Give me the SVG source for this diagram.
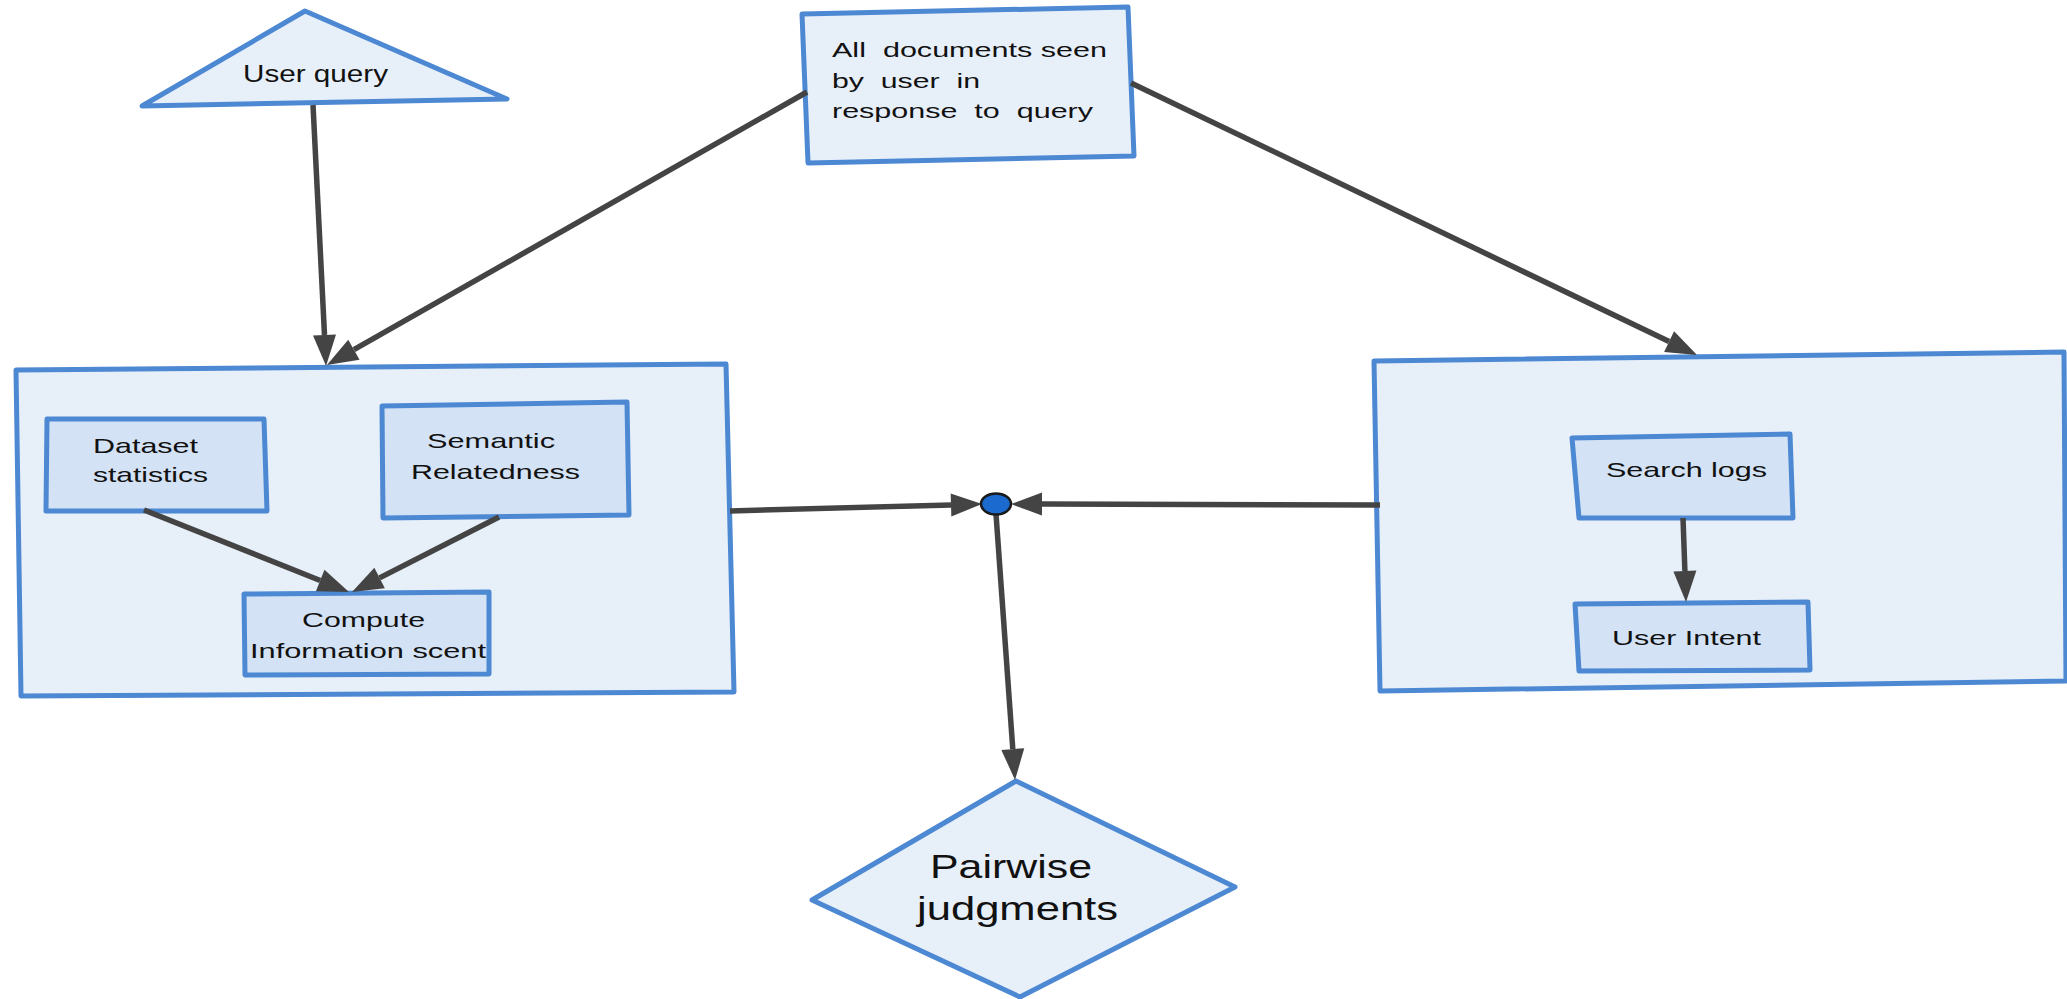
<svg xmlns="http://www.w3.org/2000/svg" width="2067" height="999" viewBox="0 0 2067 999">
<style>
.outer{fill:#e7eff9;stroke:#4d88d3;stroke-width:5;stroke-linejoin:round}
.inner{fill:#d3e2f4;stroke:#4d88d3;stroke-width:5;stroke-linejoin:round}
.t{font-family:"Liberation Sans",Arial,sans-serif;fill:#111;font-size:21px}
.conn line{stroke:#444;stroke-width:5.5;marker-end:url(#arr)}
</style>
<defs>
<marker id="arr" markerUnits="userSpaceOnUse" markerWidth="32" markerHeight="24" refX="0" refY="11.5" orient="auto" overflow="visible">
<path d="M0,0 L31,11.5 L0,23 z" fill="#444"/>
</marker>
</defs>
<rect width="2067" height="999" fill="#fff"/>
<g id="user-query">
<polygon class="outer" points="305,11 507,99 142,106"/>
<text class="t" x="243" y="82" style="font-size:23px" textLength="145" lengthAdjust="spacingAndGlyphs">User query</text>
</g>
<g id="all-documents">
<polygon class="outer" points="802,14 1128,7 1134,156 808,163"/>
<text class="t" xml:space="preserve" x="832" y="57" style="font-size:20px" textLength="275" lengthAdjust="spacingAndGlyphs">All  documents seen</text>
<text class="t" xml:space="preserve" x="832" y="88" style="font-size:20px" textLength="148" lengthAdjust="spacingAndGlyphs">by  user  in</text>
<text class="t" xml:space="preserve" x="832" y="118" style="font-size:20px" textLength="261" lengthAdjust="spacingAndGlyphs">response  to  query</text>
</g>
<g id="left-group">
<polygon class="outer" points="16,370 726,364 734,692 21,696"/>
</g>
<g id="dataset-statistics">
<polygon class="inner" points="47,419 264,419 267,511 46,511"/>
<text class="t" x="93" y="453" textLength="105" lengthAdjust="spacingAndGlyphs">Dataset</text>
<text class="t" x="93" y="482" textLength="115" lengthAdjust="spacingAndGlyphs">statistics</text>
</g>
<g id="semantic-relatedness">
<polygon class="inner" points="382,406 627,402 629,515 383,518"/>
<text class="t" x="427" y="448" textLength="128" lengthAdjust="spacingAndGlyphs">Semantic</text>
<text class="t" x="411" y="479" textLength="169" lengthAdjust="spacingAndGlyphs">Relatedness</text>
</g>
<g id="compute-scent">
<polygon class="inner" points="244,594 489,592 489,674 245,675"/>
<text class="t" x="302" y="627" textLength="123" lengthAdjust="spacingAndGlyphs">Compute</text>
<text class="t" x="250" y="658" textLength="236" lengthAdjust="spacingAndGlyphs">Information scent</text>
</g>
<g id="right-group">
<polygon class="outer" points="1374,361 2064,352 2066,681 1380,691"/>
</g>
<g id="search-logs">
<polygon class="inner" points="1572,438 1790,434 1793,518 1579,518"/>
<text class="t" x="1606" y="477" textLength="161" lengthAdjust="spacingAndGlyphs">Search logs</text>
</g>
<g id="user-intent">
<polygon class="inner" points="1575,604 1808,602 1810,670 1579,671"/>
<text class="t" x="1612" y="645" textLength="149" lengthAdjust="spacingAndGlyphs">User Intent</text>
</g>
<g id="pairwise-judgments">
<polygon class="outer" points="1016,781 1235,887 1020,997 812,900"/>
<text class="t" x="930" y="878" style="font-size:34px" textLength="162" lengthAdjust="spacingAndGlyphs">Pairwise</text>
<text class="t" x="917" y="920" style="font-size:34px" textLength="201" lengthAdjust="spacingAndGlyphs">judgments</text>
</g>
<g id="connectors" class="conn">
<line x1="313" y1="105" x2="324.5" y2="335"/>
<line x1="807" y1="92" x2="353.9" y2="349.7"/>
<line x1="1131" y1="83" x2="1669.1" y2="341.6"/>
<line x1="730" y1="511" x2="951" y2="504.9"/>
<line x1="1380" y1="505" x2="1042" y2="504.1"/>
<line x1="996" y1="514" x2="1012.8" y2="749.1"/>
<line x1="144" y1="510" x2="320.2" y2="580.5"/>
<line x1="499" y1="517" x2="379.6" y2="577.9"/>
<line x1="1683" y1="518" x2="1684.9" y2="571"/>
</g>
<g id="junction">
<ellipse cx="996" cy="504" rx="15" ry="10.5" fill="#1a6ad0" stroke="#1a1a1a" stroke-width="2.5"/>
</g>
</svg>
